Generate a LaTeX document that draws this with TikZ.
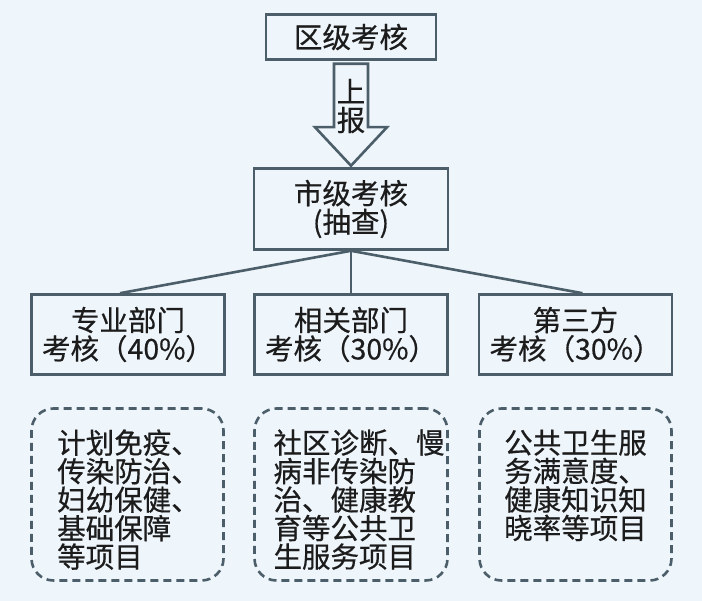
\documentclass[tikz,border=0pt]{standalone}
\usepackage{fontspec}
\setmainfont{Noto Sans CJK SC}[FakeBold=0.5]
\usetikzlibrary{calc}
\definecolor{bg}{HTML}{EEF5FB}
\definecolor{ln}{HTML}{4B5E69}
\definecolor{tx}{HTML}{1C1C1C}
\begin{document}
\begin{tikzpicture}[x=1pt,y=-1pt,
  every node/.style={font=\fontsize{28.5}{28.5}\selectfont,text=tx},
  box/.style={draw=ln,line width=2.6pt,fill=bg,inner sep=0pt,align=center},
  dbox/.style={draw=ln,line width=2.6pt,dash pattern=on 8pt off 5pt,rounded corners=22pt,inner sep=0pt},
  itemtext/.style={align=left,inner sep=0pt,anchor=north},
  conn/.style={draw=ln,line width=2.6pt}]
\fill[bg] (0,0) rectangle (702,601);
\useasboundingbox (0,0) rectangle (702,601);

\node[box,minimum width=170pt,minimum height=45pt] (qu) at (351,37) {区级考核};
\node[box,minimum width=194pt,minimum height=81pt] (shi) at (351,209) {市级考核\\(抽查)};

% hollow arrow
\coordinate (top) at ([yshift=-3pt]qu.south);
\coordinate (hb) at ([yshift=40pt]shi.north);
\draw[conn,fill=bg,line join=miter] ([xshift=-17pt]top) -- ([xshift=17pt]top) -- ([xshift=17pt]top |- hb) -- ([xshift=36pt]hb) -- ([yshift=1.5pt]shi.north) -- ([xshift=-36pt]hb) -- ([xshift=-17pt]top |- hb) -- cycle;
\node[align=center,inner sep=0pt] (sb) at (351,106) {上\\报};

\node[box,minimum width=193pt,minimum height=80pt] (zy) at (128,334.5) {专业部门\\考核（40\%）};
\node[box,minimum width=193pt,minimum height=80pt] (xg) at (351,334.5) {相关部门\\考核（30\%）};
\node[box,minimum width=193pt,minimum height=80pt] (ds) at (575.5,334.5) {第三方\\考核（30\%）};

\draw[conn] (shi.south) -- ([xshift=-8pt]zy.north);
\draw[conn] (shi.south) -- (xg.north);
\draw[conn] (shi.south) -- ([xshift=7pt]ds.north);

\node[dbox,minimum width=192pt,minimum height=172pt] (d1) at (127.5,494.5) {};
\node[dbox,minimum width=193pt,minimum height=172pt] (d2) at (351,494.5) {};
\node[dbox,minimum width=192pt,minimum height=172pt] (d3) at (575.5,494.5) {};

\node[itemtext] (t1) at ([yshift=-22pt,xshift=1pt]d1.north) {计划免疫、\\传染防治、\\妇幼保健、\\基础保障\\等项目};
\node[itemtext] (t2) at ([yshift=-22pt,xshift=8pt]d2.north) {社区诊断、慢\\病非传染防\\治、健康教\\育等公共卫\\生服务项目};
\node[itemtext] (t3) at ([yshift=-22pt,xshift=0pt]d3.north) {公共卫生服\\务满意度、\\健康知识知\\晓率等项目};
\end{tikzpicture}
\end{document}
